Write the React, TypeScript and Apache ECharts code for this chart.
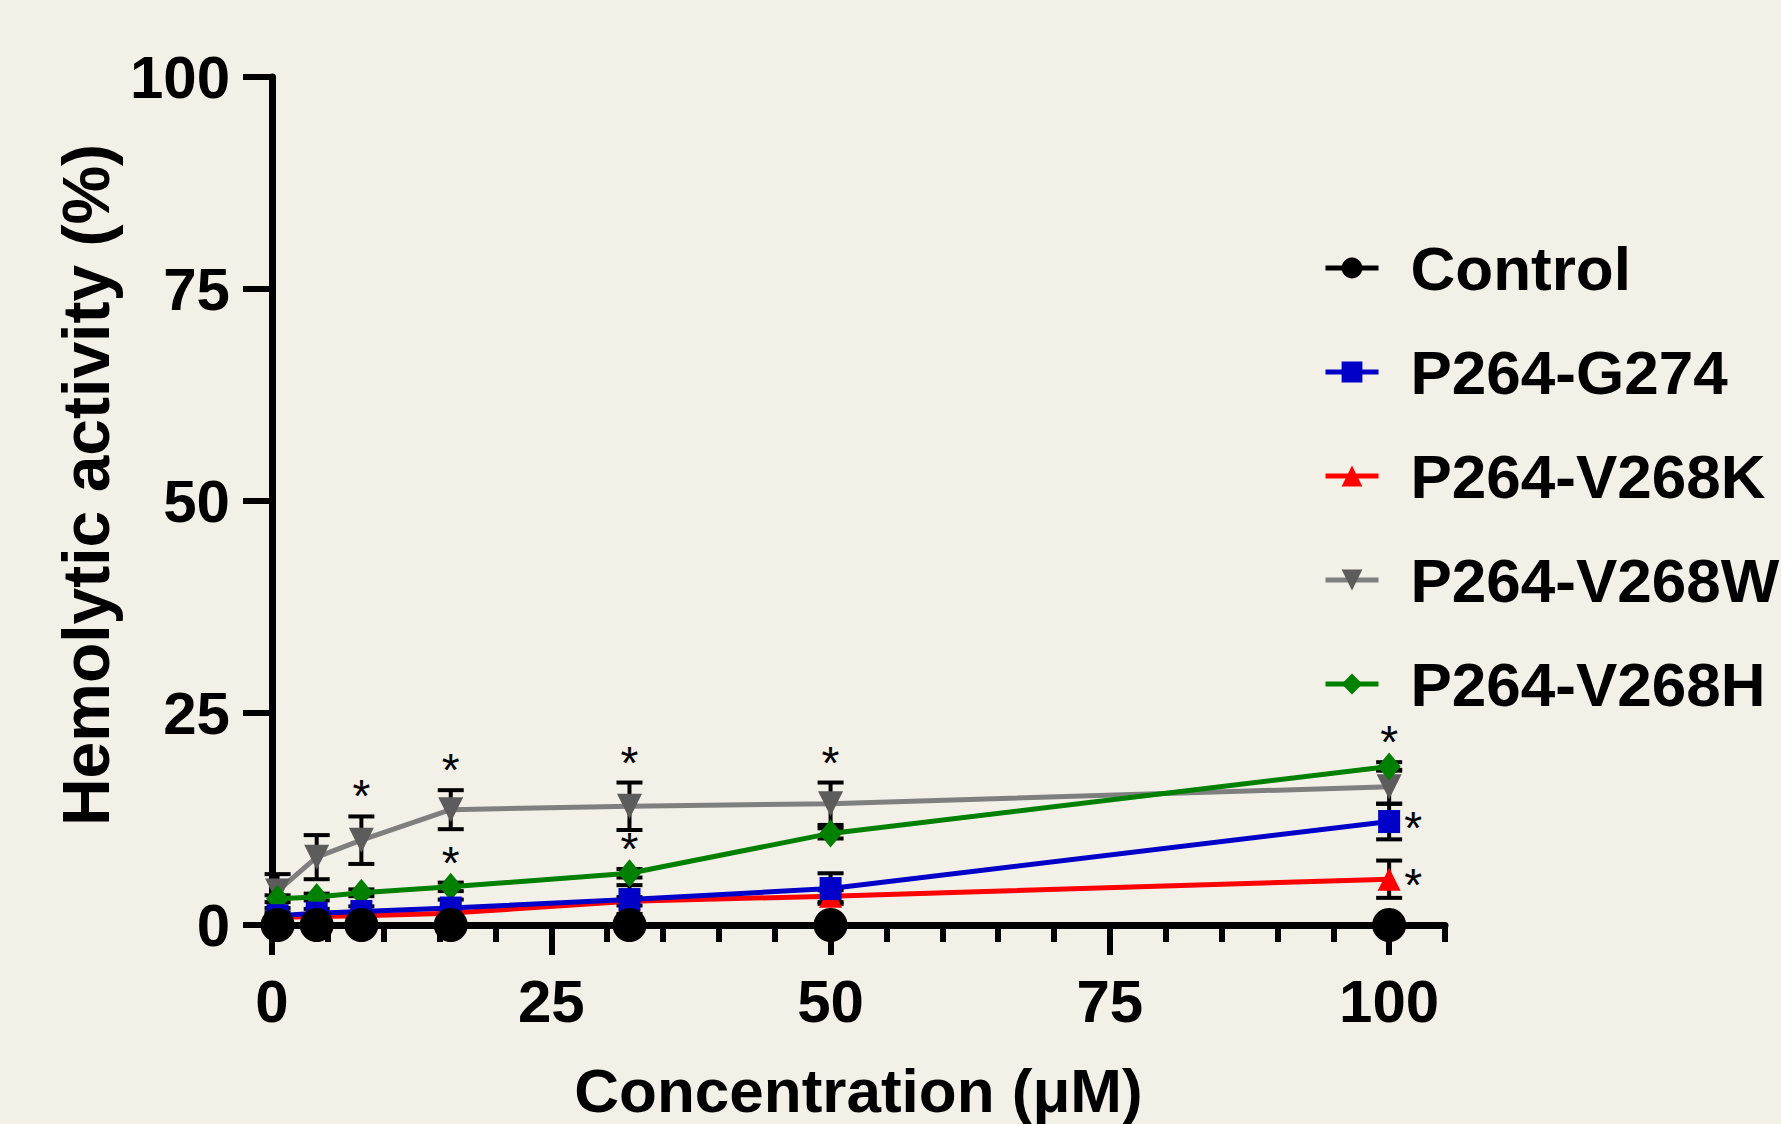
import React, { useEffect, useRef } from 'react';
import * as echarts from 'echarts';

// ---- data ----
const concentrations = [0.5, 4, 8, 16, 32, 50, 100];
const seriesNames = ['Control', 'P264-G274', 'P264-V268K', 'P264-V268W', 'P264-V268H'];
const controlMean = [0, 0, 0, 0, 0, 0, 0];
const controlSd = [0, 0, 0, 0, 0, 0, 0];
const g274Mean = [1.1, 1.4, 1.6, 2.0, 3.0, 4.3, 12.2];
const g274Sd = [0.4, 0.5, 0.6, 1.0, 1.7, 1.8, 2.1];
const v268kMean = [0.9, 1.0, 1.1, 1.4, 2.8, 3.4, 5.4];
const v268kSd = [0.3, 0.3, 0.4, 0.4, 0.5, 0.7, 2.2];
const v268wMean = [4.0, 8.0, 10.0, 13.6, 14.0, 14.3, 16.3];
const v268wSd = [2.0, 2.6, 2.8, 2.3, 2.8, 2.5, 2.0];
const v268hMean = [3.1, 3.3, 3.8, 4.5, 6.1, 10.8, 18.7];
const v268hSd = [0.4, 0.4, 0.4, 0.5, 0.5, 0.6, 0.5];
const xTickLabels = [0, 25, 50, 75, 100];
const xMinorTicks = [0, 5, 10, 15, 20, 25, 30, 35, 40, 45, 50, 55, 60, 65, 70, 75, 80, 85, 90, 95, 100, 105];
// concentrations marked with '*'
const starsW = [8, 16, 32, 50];
const starsH = [16, 32, 100];
const starsG274 = [100];
const starsK = [100];

const FONT = '"Liberation Sans", Arial, Helvetica, sans-serif';

type Group = {
  name: string;
  mean: number[];
  sd: number[];
  lineColor: string;
  markerColor: string;
  symbol: string;
  symbolSize: number | number[];
  stars: number[];
  starSide: 'top' | 'right';
};

const groups: Group[] = [
  { name: seriesNames[0], mean: controlMean, sd: controlSd, lineColor: '#000000', markerColor: '#000000', symbol: 'circle', symbolSize: 34, stars: [], starSide: 'top' },
  { name: seriesNames[1], mean: g274Mean, sd: g274Sd, lineColor: '#0000c8', markerColor: '#0000c8', symbol: 'rect', symbolSize: [22, 23], stars: starsG274, starSide: 'right' },
  { name: seriesNames[2], mean: v268kMean, sd: v268kSd, lineColor: '#ff0000', markerColor: '#ff0000', symbol: 'triangle', symbolSize: 23, stars: starsK, starSide: 'right' },
  { name: seriesNames[3], mean: v268wMean, sd: v268wSd, lineColor: '#7f7f7f', markerColor: '#5c5c5c', symbol: 'path://M0,0 L10,0 L5,9 Z', symbolSize: 25, stars: starsW, starSide: 'top' },
  { name: seriesNames[4], mean: v268hMean, sd: v268hSd, lineColor: '#008000', markerColor: '#008000', symbol: 'diamond', symbolSize: [23, 28], stars: starsH, starSide: 'top' },
];

function buildOption() {
  const series: any[] = [];

  // error bars
  const errData: number[][] = [];
  groups.forEach((g) => {
    concentrations.forEach((c, i) => {
      if (g.sd[i] > 0) errData.push([c, g.mean[i] - g.sd[i], g.mean[i] + g.sd[i]]);
    });
  });
  series.push({
    type: 'custom',
    name: 'errorbars',
    z: 3,
    clip: false,
    encode: { x: 0, y: [1, 2] },
    data: errData,
    renderItem: (params: any, api: any) => {
      const x = api.value(0);
      const lo = api.value(1);
      const hi = api.value(2);
      const pLo = api.coord([x, lo]);
      const pHi = api.coord([x, hi]);
      const half = 13;
      const style = { stroke: '#000', lineWidth: 4 };
      return {
        type: 'group',
        children: [
          { type: 'line', shape: { x1: pHi[0], y1: pHi[1], x2: pLo[0], y2: pLo[1] }, style },
          { type: 'line', shape: { x1: pHi[0] - half, y1: pHi[1], x2: pHi[0] + half, y2: pHi[1] }, style },
          { type: 'line', shape: { x1: pLo[0] - half, y1: pLo[1], x2: pLo[0] + half, y2: pLo[1] }, style },
        ],
      };
    },
  });

  // lines with markers (drawn so that Control ends on top)
  const drawOrder = [3, 4, 2, 1, 0];
  drawOrder.forEach((gi, k) => {
    const g = groups[gi];
    series.push({
      type: 'line',
      name: g.name,
      z: 4 + k,
      clip: false,
      data: concentrations.map((c, i) => [c, g.mean[i]]),
      symbol: g.symbol,
      symbolSize: g.symbolSize,
      showAllSymbol: true,
      lineStyle: { color: g.lineColor, width: 5 },
      itemStyle: { color: g.markerColor, borderWidth: 0 },
    });
  });

  // significance stars
  const starData: any[] = [];
  groups.forEach((g) => {
    g.stars.forEach((c) => {
      const i = concentrations.indexOf(c);
      if (i < 0) return;
      const y = g.starSide === 'top' ? g.mean[i] + g.sd[i] : g.mean[i];
      starData.push([c, y, g.starSide === 'top' ? 0 : 1]);
    });
  });
  series.push({
    type: 'custom',
    name: 'stars',
    z: 10,
    clip: false,
    encode: { x: 0, y: 1 },
    data: starData,
    renderItem: (params: any, api: any) => {
      const p = api.coord([api.value(0), api.value(1)]);
      const side = api.value(2);
      const dx = side === 1 ? 24 : 0;
      const dy = side === 1 ? 6 : -20;
      return {
        type: 'text',
        x: p[0] + dx,
        y: p[1] + dy,
        style: {
          text: '*',
          fill: '#000',
          fontSize: 46,
          fontFamily: FONT,
          align: 'center',
          verticalAlign: 'middle',
        },
      };
    },
  });

  const axisText = { color: '#000', fontSize: 60, fontWeight: 'bold', fontFamily: FONT };

  return {
    animation: false,
    backgroundColor: '#f3f0e8',
    grid: { left: 272, top: 77, width: 1173, height: 848, containLabel: false, outerBoundsMode: 'none' },
    legend: {
      orient: 'vertical',
      left: 1323,
      top: 236,
      padding: 0,
      itemWidth: 53,
      itemHeight: 26,
      itemGap: 40,
      selectedMode: false,
      data: seriesNames,
      lineStyle: { width: 5 },
      textStyle: { fontSize: 62, fontWeight: 'bold', color: '#000', fontFamily: FONT, lineHeight: 64, padding: [0, 0, 0, 27] },
    },
    xAxis: [
      {
        type: 'value',
        min: 0,
        max: 105,
        interval: 5,
        position: 'bottom',
        axisLine: { show: true, onZero: false, lineStyle: { color: '#000', width: 7 } },
        axisTick: { show: true, customValues: xMinorTicks, length: 17, lineStyle: { color: '#000', width: 6 } },
        axisLabel: { customValues: xTickLabels, margin: 46, ...axisText },
        splitLine: { show: false },
        name: 'Concentration (μM)',
        nameLocation: 'middle',
        nameGap: 134,
        nameTextStyle: { color: '#000', fontSize: 62, fontWeight: 'bold', fontFamily: FONT, lineHeight: 62 },
      },
      {
        type: 'value',
        min: 0,
        max: 105,
        position: 'bottom',
        axisLine: { show: false },
        axisTick: { show: true, customValues: xTickLabels, length: 30, lineStyle: { color: '#000', width: 6 } },
        axisLabel: { show: false },
        splitLine: { show: false },
      },
    ],
    yAxis: {
      type: 'value',
      min: 0,
      max: 100,
      interval: 25,
      axisLine: { show: true, lineStyle: { color: '#000', width: 7 } },
      axisTick: { show: true, length: 29, lineStyle: { color: '#000', width: 6 } },
      axisLabel: { margin: 42, ...axisText },
      splitLine: { show: false },
      name: 'Hemolytic activity (%)',
      nameLocation: 'middle',
      nameGap: 152,
      nameRotate: 90,
      nameTextStyle: { color: '#000', fontSize: 66, fontWeight: 'bold', fontFamily: FONT, padding: [0, 0, 0, 32] },
    },
    series,
  };
}

export default function App() {
  const ref = useRef<HTMLDivElement>(null);
  useEffect(() => {
    document.body.style.margin = '0';
    document.body.style.background = '#f3f0e8';
    if (!ref.current) return;
    const chart = echarts.init(ref.current, undefined, { renderer: 'svg' });
    chart.setOption(buildOption() as any);
    return () => chart.dispose();
  }, []);
  return (
    <div
      ref={ref}
      style={{ position: 'fixed', left: 0, top: 0, width: 1781, height: 1124, overflow: 'hidden' }}
    />
  );
}
